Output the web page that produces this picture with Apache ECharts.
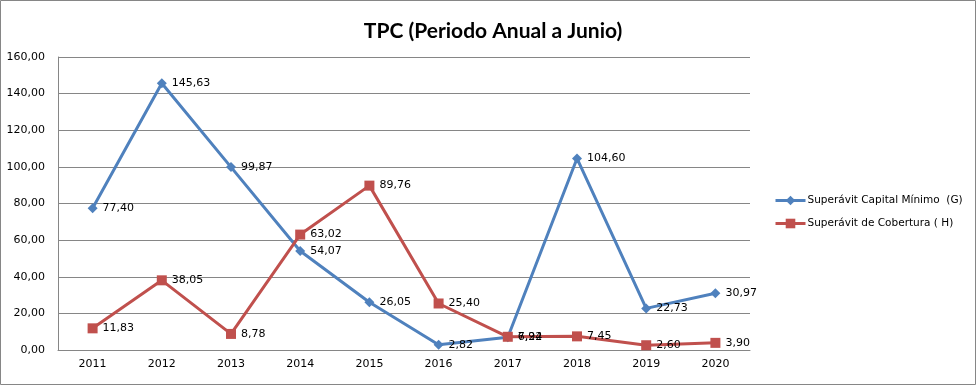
<!DOCTYPE html>
<html><head><meta charset="utf-8">
<script src="https://cdn.jsdelivr.net/npm/echarts@6/dist/echarts.min.js"></script>
<style>html,body{margin:0;padding:0;background:#fff}#c{width:976px;height:385px}</style>
</head><body><div id="c"></div>
<script>
const years = ['2011','2012','2013','2014','2015','2016','2017','2018','2019','2020'];
const capitalMinimo = [77.40,145.63,99.87,54.07,26.05,2.82,6.94,104.60,22.73,30.97];
const cobertura = [11.83,38.05,8.78,63.02,89.76,25.40,7.22,7.45,2.60,3.90];
const yTicks = {min:0,max:160,interval:20};
const fmt = v => v.toFixed(2).replace('.', ',');
const chart = echarts.init(document.getElementById('c'));
const font = 'DejaVu Sans';
chart.setOption({
  animation:false,
  title:{text:'TPC (Periodo Anual a Junio)',left:488,top:16,textAlign:'center',
    textStyle:{fontFamily:'Lato',fontSize:21,fontWeight:'bold',color:'#000'}},
  graphic:[{type:'rect',shape:{x:0.5,y:0.5,width:975,height:384},style:{fill:'none',stroke:'#868686',lineWidth:1},silent:true}],
  legend:{orient:'vertical',left:769,top:190,itemGap:12,itemWidth:30,itemHeight:12,
    lineStyle:{width:3},
    textStyle:{fontFamily:font,fontSize:10.5,color:'#000',padding:[0,0,0,-3]},
    data:['Superávit Capital Mínimo  (G)','Superávit de Cobertura ( H)']},
  grid:{left:58,right:226,top:57,bottom:35},
  xAxis:{type:'category',data:years,boundaryGap:true,
    axisLine:{lineStyle:{color:'#868686'}},axisTick:{show:false},
    axisLabel:{fontFamily:font,fontSize:11,color:'#000',margin:9}},
  yAxis:{type:'value',min:yTicks.min,max:yTicks.max,interval:yTicks.interval,
    axisLine:{show:true,lineStyle:{color:'#868686'}},axisTick:{show:false},
    splitLine:{lineStyle:{color:'#868686'}},
    axisLabel:{fontFamily:font,fontSize:11,color:'#000',margin:13,formatter:v=>fmt(v)}},
  series:[
    {name:'Superávit Capital Mínimo  (G)',type:'line',data:capitalMinimo,color:'#4F81BD',
     symbol:'diamond',symbolSize:10,lineStyle:{width:3},
     label:{show:true,position:'right',distance:5,fontFamily:font,fontSize:11,color:'#000',formatter:p=>fmt(p.value)}},
    {name:'Superávit de Cobertura ( H)',type:'line',data:cobertura,color:'#C0504D',
     symbol:'rect',symbolSize:10,lineStyle:{width:3},
     label:{show:true,position:'right',distance:5,fontFamily:font,fontSize:11,color:'#000',formatter:p=>fmt(p.value)}}
  ]
});
</script></body></html>
